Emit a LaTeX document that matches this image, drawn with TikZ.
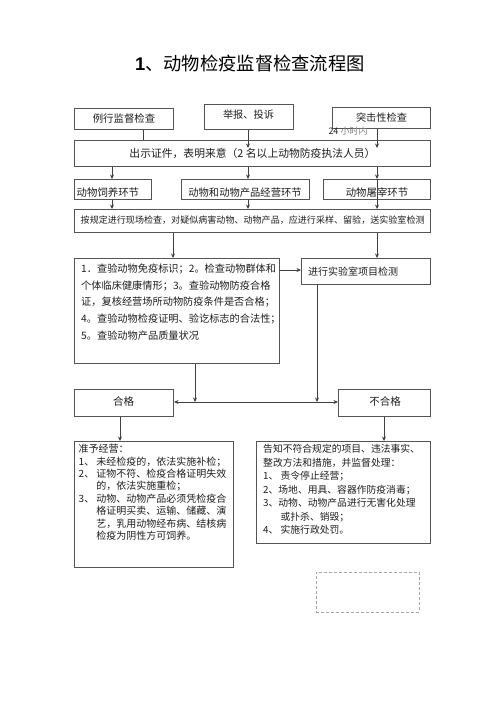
\documentclass[tikz,border=0pt]{standalone}
\usepackage{fontspec}
\setmainfont{Noto Sans CJK SC}
\newfontfamily\libsans{Liberation Sans}
\usetikzlibrary{arrows.meta}
\newcommand\fsz[2]{\fontsize{#1}{#2}\selectfont}
\definecolor{boxc}{gray}{0.33}
\definecolor{linec}{gray}{0.25}
\definecolor{txtc}{gray}{0.12}
\begin{document}
\begin{tikzpicture}[x=1pt,y=-1pt,
  box/.style={draw=boxc, line width=1pt, inner sep=0pt, anchor=north west},
  txt/.style={inner sep=0pt, text=txtc},
  ln/.style={draw=linec, line width=1pt},
  arr/.style={draw=linec, line width=1pt, -{Stealth[length=4.5pt,width=4pt]}},
  darr/.style={draw=linec, line width=1pt, {Stealth[length=4.5pt,width=4pt]}-{Stealth[length=4.5pt,width=4pt]}}]
\path[fill=white] (0,0) rectangle (500,707);
\useasboundingbox (0,0) rectangle (500,707);

% title
\node[txt, text=black, font=\fsz{18.3}{20}] (title) at (250,63) {{\libsans\bfseries 1}、动物检疫监督检查流程图};

% guides
\coordinate (xa) at (143,0);
\coordinate (xb) at (248,0);
\coordinate (xc) at (377,0);
\coordinate (xd) at (112,0);
\coordinate (xe) at (173,0);
\coordinate (xf) at (195,0);
\coordinate (xg) at (317,0);
\coordinate (xh) at (120,0);
\coordinate (xi) at (384,0);
\coordinate (ytip) at (0,148);
\coordinate (yc) at (0,270);
\coordinate (yh) at (0,402);

% top row
\node[box, minimum width=99pt, minimum height=21pt] (routine) at (74,108) {};
\node[txt, font=\fsz{10.4}{12}] (routineT) at (routine.center) {例行监督检查};
\node[box, minimum width=89pt, minimum height=25pt] (report) at (204,104) {};
\node[txt, font=\fsz{10.2}{12}] (reportT) at (248.5,115) {举报、投诉};
\node[box, minimum width=98pt, minimum height=21pt] (surprise) at (332,107) {};
\node[txt, font=\fsz{10.2}{12}] (surpriseT) at (surprise.center) {突击性检查};
\node[txt, font=\fsz{9}{10}] (hours) at (348,131) {24 {\color{gray}小时内}};

% show credentials
\node[box, minimum width=356pt, minimum height=26pt] (show) at (74,140) {};
\node[txt, font=\fsz{10.8}{12}] (showT) at (show.center) {出示证件，表明来意（2 名以上动物防疫执法人员）};

\draw[ln] (routine.south -| xa) -- (show.north -| xa);
\draw[arr] (report.south -| xb) -- (xb |- ytip);
\draw[arr] (surprise.south -| xc) -- (xc |- ytip);

% three links
\node[box, minimum width=77pt, minimum height=20pt] (feed) at (74,179) {};
\node[txt, font=\fsz{10.4}{12}, anchor=west] (feedT) at (76.5,193) {动物饲养环节};
\node[box, minimum width=128pt, minimum height=20pt] (trade) at (181,179) {};
\node[txt, font=\fsz{10.3}{12}] (tradeT) at (245,193) {动物和动物产品经营环节};
\node[box, minimum width=107pt, minimum height=20pt] (slaughter) at (323,179) {};
\node[txt, font=\fsz{10.4}{12}] (slaughterT) at (377,193) {动物屠宰环节};

\draw[arr] (show.south -| xd) -- (feed.north -| xd);
\draw[arr] (show.south -| xb) -- (trade.north -| xb);
\draw[arr] (show.south -| xc) -- (slaughter.north -| xc);

% on-site inspection
\node[box, minimum width=356pt, minimum height=23pt] (inspect) at (74,209) {};
\node[txt, font=\fsz{9.05}{11}, anchor=west] (inspectT) at (80.5,220.5) {按规定进行现场检查，对疑似病害动物、动物产品，应进行采样、留验，送实验室检测};

\draw[arr] (feed.south -| xd) -- (inspect.north -| xd);
\draw[arr] (trade.south -| xb) -- (inspect.north -| xb);
\draw[arr] (slaughter.north -| xc) -- (inspect.north -| xc);

% check items and lab
\node[box, minimum width=205pt, minimum height=105pt] (check) at (74,258) {};
\node[txt, font=\fsz{10.2}{16.7}, anchor=north west, align=left] (checkT) at (81,263.5) {1．查验动物免疫标识；2。检查动物群体和\\个体临床健康情形；3。查验动物防疫合格\\证，复核经营场所动物防疫条件是否合格；\\4。查验动物检疫证明、验讫标志的合法性；\\5。查验动物产品质量状况};
\node[box, minimum width=129pt, minimum height=26pt] (lab) at (301,258) {};
\node[txt, font=\fsz{10}{12}, anchor=west] (labT) at (308,271.5) {进行实验室项目检测};

\draw[arr] (inspect.south -| xe) -- (check.north -| xe);
\draw[arr] (inspect.south -| xc) -- (lab.north -| xc);
\draw[arr] (check.east |- yc) -- (lab.west |- yc);

% results
\node[box, minimum width=99pt, minimum height=27pt] (pass) at (74,389) {};
\node[txt, font=\fsz{10.5}{12}] (passT) at (123.5,401) {合格};
\node[box, minimum width=92pt, minimum height=27pt] (fail) at (338,389) {};
\node[txt, font=\fsz{10.5}{12}] (failT) at (385,401) {不合格};

\draw[darr] (pass.east |- yh) -- (fail.west |- yh);
\draw[arr] (check.south -| xf) -- (xf |- yh);
\draw[arr] (lab.south -| xg) -- (xg |- yh);

% outcome boxes
\node[box, minimum width=159pt, minimum height=126pt] (permit) at (74,441) {};
\node[txt, font=\fsz{10}{12.45}, anchor=north west, align=left] (permitT) at (78.5,444) {准予经营：\\1、 未经检疫的，依法实施补检；\\2、 证物不符、检疫合格证明失效\\\phantom{2、 }的，依法实施重检；\\3、 动物、动物产品必须凭检疫合\\\phantom{3、 }格证明买卖、运输、储藏、演\\\phantom{3、 }艺，乳用动物经布病、结核病\\\phantom{3、 }检疫为阴性方可饲养。};
\node[box, minimum width=174pt, minimum height=102pt] (notice) at (256,441) {};
\node[txt, font=\fsz{9.8}{13.5}, anchor=north west, align=left] (noticeT) at (263,444) {告知不符合规定的项目、违法事实、\\整改方法和措施，并监督处理：\\1、 责令停止经营；\\2、场地、用具、容器作防疫消毒；\\3、动物、动物产品进行无害化处理\\\phantom{3、 }或扑杀、销毁；\\4、 实施行政处罚。};

\draw[arr] (pass.south -| xh) -- (permit.north -| xh);
\draw[arr] (fail.south -| xi) -- (notice.north -| xi);

% empty dashed box
\node[box, draw=black!35, line width=0.8pt, dash pattern=on 3pt off 2pt, minimum width=103pt, minimum height=40pt] (blank) at (316,572) {};
\end{tikzpicture}
\end{document}
